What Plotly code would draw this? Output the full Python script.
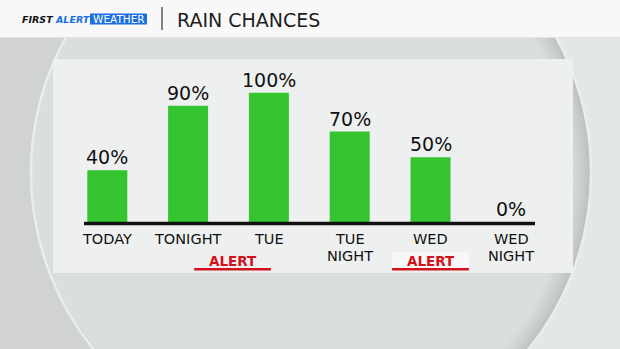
import plotly.graph_objects as go

# ---- data ----
categories = ["TODAY", "TONIGHT", "TUE", "TUE NIGHT", "WED", "WED NIGHT"]
rain_chance = [40, 90, 100, 70, 50, 0]
value_labels = [f"{v}%" for v in rain_chance]
alert_text = ["ALERT", "ALERT"]
alert_pos = [1.55, 4.0]          # category-axis positions of the ALERT tags
title_text = "RAIN CHANCES"

W, H = 620, 349
def X(px): return px / W
def Y(py): return 1 - py / H

FONT = "DejaVu Sans"
GREEN = "#33c42f"
RED = "#d3111b"

fig = go.Figure()
fig.add_trace(go.Bar(
    x=list(range(len(categories))), y=rain_chance,
    marker=dict(color=GREEN, line=dict(width=0)),
    hoverinfo="skip",
))

shapes = []
# background: darker left, lighter right
shapes.append(dict(type="rect", xref="paper", yref="paper", x0=X(311), x1=1, y0=0, y1=Y(37),
                   fillcolor="#e3e7e7", line=dict(width=0), layer="below"))
# disc with smooth shading on right side
cx, cy, r = 311, 172.6, 280
n = 10
c0 = (0xbc, 0xbe, 0xbe)
c1 = (0xda, 0xde, 0xde)
for k in range(n + 1):
    t = k / n
    off = 22 * t
    rr = r - off / 2 - 0.5 * t
    c = cx - off / 2
    col = "rgb(%d,%d,%d)" % tuple(round(a + (b - a) * (t ** 0.7)) for a, b in zip(c0, c1))
    shapes.append(dict(type="circle", xref="paper", yref="paper",
                       x0=X(c - rr), x1=X(c + rr), y0=Y(cy + rr), y1=Y(cy - rr),
                       fillcolor=col, line=dict(width=0), layer="below"))
# bright rim
shapes.append(dict(type="circle", xref="paper", yref="paper",
                   x0=X(cx - r), x1=X(cx + r), y0=Y(cy + r), y1=Y(cy - r),
                   fillcolor="rgba(0,0,0,0)", line=dict(color="#e6eeef", width=2.5), layer="below"))
# header
shapes.append(dict(type="rect", xref="paper", yref="paper", x0=0, x1=1, y0=Y(37), y1=1,
                   fillcolor="#f8f8f8", line=dict(width=0), layer="below"))
shapes.append(dict(type="line", xref="paper", yref="paper", x0=0, x1=1, y0=Y(37.5), y1=Y(37.5),
                   line=dict(color="#e2e2e2", width=1), layer="below"))
# panel
shapes.append(dict(type="rect", xref="paper", yref="paper", x0=X(53), x1=X(573), y0=Y(273), y1=Y(59),
                   fillcolor="#eef0f0", line=dict(width=0), layer="below"))
# header divider
shapes.append(dict(type="line", xref="paper", yref="paper", x0=X(162), x1=X(162), y0=Y(7), y1=Y(30),
                   line=dict(color="#333333", width=1.2), layer="below"))
# logo WEATHER box
shapes.append(dict(type="rect", xref="paper", yref="paper", x0=X(90), x1=X(147), y0=Y(24.5), y1=Y(13.5),
                   fillcolor="#1b6fe0", line=dict(width=0), layer="below"))
# baseline
shapes.append(dict(type="line", xref="paper", yref="paper", x0=X(84), x1=X(535), y0=Y(223.5), y1=Y(223.5),
                   line=dict(color="#111111", width=3.4), layer="above"))
# alert box behind 2nd alert
shapes.append(dict(type="rect", xref="x", yref="paper", x0=alert_pos[1] - 0.475, x1=alert_pos[1] + 0.475,
                   y0=Y(271), y1=Y(252), fillcolor="#f8f8f8", line=dict(width=0), layer="below"))
# alert underlines
for p in alert_pos:
    shapes.append(dict(type="line", xref="x", yref="paper", x0=p - 0.475, x1=p + 0.475,
                       y0=Y(269.3), y1=Y(269.3), line=dict(color=RED, width=2.6), layer="above"))

annotations = []
# value labels
for i, (v, t) in enumerate(zip(rain_chance, value_labels)):
    annotations.append(dict(x=i, y=v, xref="x", yref="y", text=t, showarrow=False,
                            yanchor="bottom", yshift=0,
                            font=dict(family=FONT, size=19, color="#111111")))
# category labels (one or two lines)
for i, c in enumerate(categories):
    parts = c.split(" ")
    for j, part in enumerate(parts):
        annotations.append(dict(x=i, y=Y(238.5 + 17 * j), xref="x", yref="paper", text=part,
                                showarrow=False, yanchor="middle",
                                font=dict(family=FONT, size=14.5, color="#111111")))
# alerts
for p, t in zip(alert_pos, alert_text):
    annotations.append(dict(x=p, y=Y(260.5), xref="x", yref="paper", text=f"<b>{t}</b>",
                            showarrow=False, yanchor="middle",
                            font=dict(family=FONT, size=13.5, color=RED)))
# header texts
annotations.append(dict(x=X(20), y=Y(19), xref="paper", yref="paper", text="<b><i>FIRST</i></b>",
                        showarrow=False, xanchor="left", yanchor="middle",
                        font=dict(family=FONT, size=9.5, color="#111111")))
annotations.append(dict(x=X(52.5), y=Y(19), xref="paper", yref="paper", text="<b><i>ALERT</i></b>",
                        showarrow=False, xanchor="left", yanchor="middle",
                        font=dict(family=FONT, size=9.5, color="#1b6fe0")))
annotations.append(dict(x=X(118.5), y=Y(19), xref="paper", yref="paper", text="WEATHER",
                        showarrow=False, xanchor="center", yanchor="middle",
                        font=dict(family=FONT, size=10.5, color="#ffffff")))
annotations.append(dict(x=X(175), y=Y(19.5), xref="paper", yref="paper", text=title_text,
                        showarrow=False, xanchor="left", yanchor="middle",
                        font=dict(family=FONT, size=19, color="#1e1e1e")))

fig.update_layout(
    width=W, height=H,
    margin=dict(l=0, r=0, t=0, b=0),
    paper_bgcolor="#d1d2d2",
    plot_bgcolor="rgba(0,0,0,0)",
    showlegend=False,
    bargap=0.505,
    xaxis=dict(domain=[X(66.9), X(551.7)], range=[-0.5, 5.5], showticklabels=False,
               showgrid=False, zeroline=False, showline=False, ticks="", fixedrange=True),
    yaxis=dict(domain=[Y(222), Y(79.8)], range=[0, 110], showticklabels=False,
               showgrid=False, zeroline=False, showline=False, ticks="", fixedrange=True),
    shapes=shapes,
    annotations=annotations,
)
fig.write_html("out.html", config={"displayModeBar": False})
